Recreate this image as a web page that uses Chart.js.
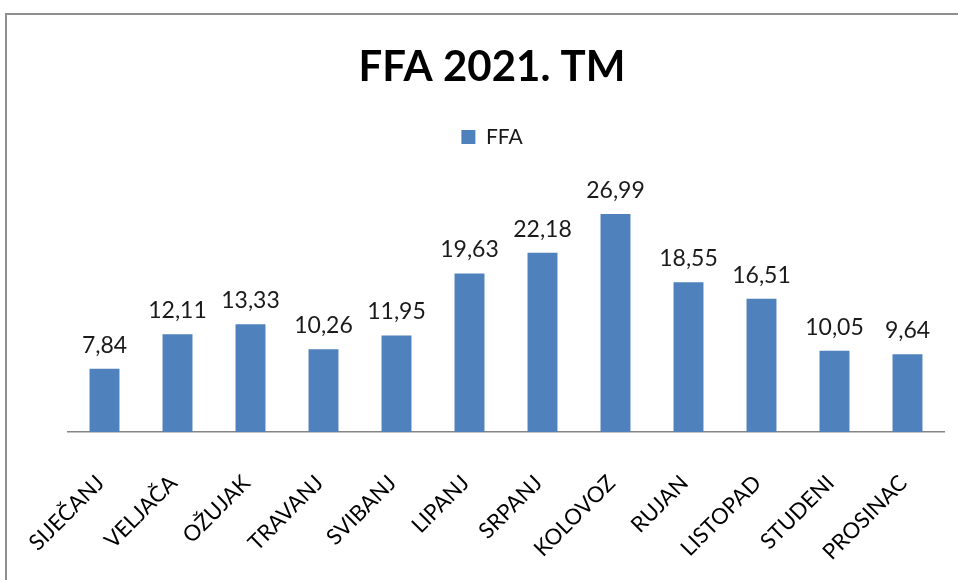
<!DOCTYPE html>
<html>
<head>
<meta charset="utf-8">
<script src="https://cdn.jsdelivr.net/npm/chart.js@4.4.0/dist/chart.umd.min.js"></script>
<style>
  html, body { margin: 0; padding: 0; background: #fff; overflow: hidden; }
  #frame { position: absolute; left: 5px; top: 13px; width: 1000px; height: 620px; border: 2px solid #8e8e8e; }
  #wrap { position: absolute; left: 0; top: 0; width: 958px; height: 580px; }
</style>
</head>
<body>
<div id="frame"></div>
<div id="wrap"><canvas id="ffaChart" width="958" height="580"></canvas></div>
<script>
/* ====== data ====== */
const months = ['SIJEČANJ', 'VELJAČA', 'OŽUJAK', 'TRAVANJ', 'SVIBANJ', 'LIPANJ',
  'SRPANJ', 'KOLOVOZ', 'RUJAN', 'LISTOPAD', 'STUDENI', 'PROSINAC'];
const ffaValues = [7.84, 12.11, 13.33, 10.26, 11.95, 19.63, 22.18, 26.99, 18.55, 16.51, 10.05, 9.64];
const seriesName = 'FFA';
const chartTitle = 'FFA 2021. TM';

const FONT = 'Lato, "Open Sans", sans-serif';

// value labels above bars (comma decimals)
const barValueLabels = {
  id: 'barValueLabels',
  afterDatasetsDraw(chart) {
    const ctx = chart.ctx;
    const meta = chart.getDatasetMeta(0);
    ctx.save();
    ctx.font = '23px ' + FONT;
    ctx.fillStyle = '#1a1a1a';
    ctx.textAlign = 'center';
    ctx.textBaseline = 'alphabetic';
    meta.data.forEach((bar, i) => {
      const txt = ffaValues[i].toFixed(2).replace('.', ',');
      ctx.fillText(txt, bar.x, bar.y - 16);
    });
    ctx.restore();
  }
};

new Chart(document.getElementById('ffaChart'), {
  type: 'bar',
  data: {
    labels: months,
    datasets: [{
      label: seriesName,
      data: ffaValues,
      backgroundColor: '#4F81BD',
      categoryPercentage: 1,
      barPercentage: 0.41
    }]
  },
  options: {
    responsive: false,
    animation: false,
    // left padding + hidden y width = 68 so title/legend centre over the frame
    layout: { padding: { left: 40, right: 14, top: 0, bottom: 0 } },
    plugins: {
      title: {
        display: true,
        text: chartTitle,
        color: '#000',
        font: { family: FONT, size: 42, weight: 'bold' },
        padding: { top: 42, bottom: 24 }
      },
      legend: {
        display: true,
        position: 'top',
        labels: {
          color: '#1a1a1a',
          font: { family: FONT, size: 21 },
          boxWidth: 14,
          boxHeight: 14
        }
      },
      tooltip: { enabled: false }
    },
    scales: {
      x: {
        grid: { display: false },
        border: { display: true, color: '#868686', width: 1.5 },
        ticks: {
          autoSkip: false,
          minRotation: 45,
          maxRotation: 45,
          padding: 30,
          labelOffset: -4,
          color: '#000',
          font: { family: FONT, size: 22 }
        },
        afterFit(scale) { scale.height = 148; }
      },
      y: {
        display: true,
        min: 0,
        max: 34,
        grid: { display: false },
        border: { display: false },
        ticks: { display: false },
        afterFit(scale) { scale.width = 28; }
      }
    }
  },
  plugins: [barValueLabels]
});
</script>
</body>
</html>
